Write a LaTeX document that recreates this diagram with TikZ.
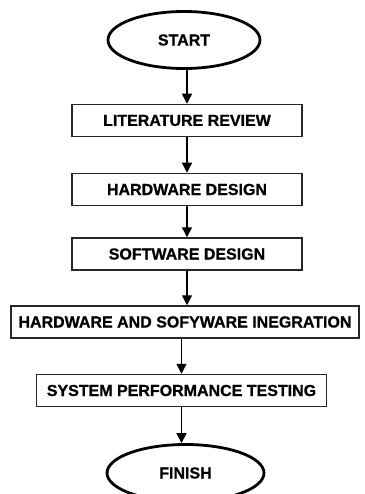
\documentclass[tikz,border=0pt]{standalone}
\usepackage{fontspec}
\setmainfont{Liberation Sans}[BoldFeatures={FakeBold=0.8}]
\usetikzlibrary{shapes.geometric,arrows.meta}

\begin{document}
\begin{tikzpicture}[x=1pt,y=-1pt]
        \tikzstyle{terminal}=[ellipse, draw, line width=2.8pt, minimum width=152pt, minimum height=57pt, inner sep=0pt]
        \tikzstyle{stage}=[rectangle, draw=black!85, line width=1.5pt, minimum height=32pt, inner sep=0pt]
        \tikzstyle{flow}=[line width=1.4pt, -{Triangle[width=10pt,length=10pt]}]

        \useasboundingbox (0,0) rectangle (364,494);
        \begin{scope}[font=\fontsize{16}{18}\selectfont\bfseries]
        \node[terminal] (start) at (184,40) {START};
        \node[stage, minimum width=230pt] (lit) at (187,120.5) {LITERATURE REVIEW};
        \node[stage, minimum width=230pt] (hw) at (187,189.5) {HARDWARE DESIGN};
        \node[stage, minimum width=230pt] (sw) at (187,254) {SOFTWARE DESIGN};
        \node[stage, minimum width=348pt] (integ) at (185,322) {HARDWARE AND SOFYWARE INEGRATION};
        \node[stage, minimum width=290pt] (test) at (181.5,390.5) {SYSTEM PERFORMANCE TESTING};
        \node[terminal, minimum width=157pt] (finish) at (185.5,473) {FINISH};
        \end{scope}

        \draw[flow] (start.south -| lit) -- (lit.north);
        \draw[flow] (lit.south) -- (hw.north);
        \draw[flow] (hw.south) -- (sw.north);
        \draw[flow] (sw.south) -- (sw.south |- integ.north);
        \draw[flow] (integ.south -| test) -- (test.north);
        \draw[flow] (test.south) -- (test.south |- finish.north);
    \end{tikzpicture}
\end{document}
